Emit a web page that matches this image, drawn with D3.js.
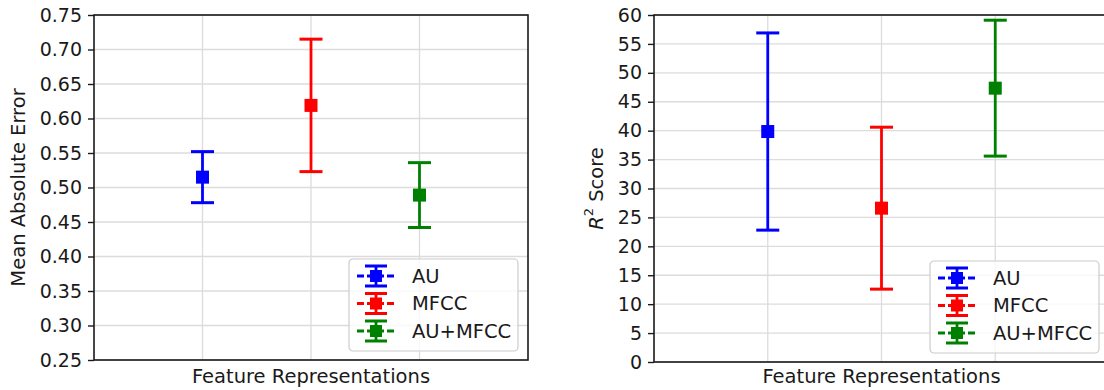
<!DOCTYPE html>
<html>
<head>
<meta charset="utf-8">
<script src="https://cdn.jsdelivr.net/npm/d3@7"></script>
<style>
  body { margin: 0; background: #fff; }
  svg { display: block; font-family: "DejaVu Sans", sans-serif; }
</style>
</head>
<body>
<svg id="chart" width="1104" height="390"></svg>
<script>
// data
var categories = ["AU", "MFCC", "AU+MFCC"];
var seriesColors = ["#0000ff", "#ff0000", "#008000"];
var maeMean = [0.515, 0.619, 0.489];
var maeErr = [0.037, 0.096, 0.047];
var r2Mean = [39.85, 26.6, 47.35];
var r2Err = [17.05, 14.0, 11.75];
var maeTicks = [0.25, 0.30, 0.35, 0.40, 0.45, 0.50, 0.55, 0.60, 0.65, 0.70, 0.75];
var r2Ticks = [0, 5, 10, 15, 20, 25, 30, 35, 40, 45, 50, 55, 60];

var svg = d3.select("#chart");
var fontSize = 19;
var labelSize = 19.5;

function drawPanel(p) {
  var x = d3.scaleLinear().domain([0, 4]).range([p.left, p.right]);
  var y = d3.scaleLinear().domain([p.ticks[0], p.ticks[p.ticks.length - 1]]).range([p.bottom, p.top]);
  var g = svg.append("g");

  // grid
  g.selectAll(".hgrid").data(p.ticks).enter().append("line")
    .attr("x1", p.left).attr("x2", p.right)
    .attr("y1", function (d) { return y(d); }).attr("y2", function (d) { return y(d); })
    .attr("stroke", "#dcdcdc").attr("stroke-width", 1.3);
  g.selectAll(".vgrid").data(categories).enter().append("line")
    .attr("x1", function (d, i) { return x(i + 1); }).attr("x2", function (d, i) { return x(i + 1); })
    .attr("y1", p.top).attr("y2", p.bottom)
    .attr("stroke", "#dcdcdc").attr("stroke-width", 1.3);

  // y axis
  var yAxis = d3.axisLeft(y).tickValues(p.ticks).tickFormat(p.fmt).tickSizeOuter(0).tickSizeInner(6).tickPadding(6);
  var ya = g.append("g").attr("transform", "translate(" + p.left + ",0)").call(yAxis);
  ya.select(".domain").remove();
  ya.selectAll(".tick line").attr("stroke", "#1a1a1a").attr("stroke-width", 1.4);
  ya.selectAll(".tick text").attr("fill", "#1a1a1a").style("font-size", fontSize + "px")
    .style("font-family", "DejaVu Sans");

  // error bars
  var bars = g.selectAll(".eb").data(categories).enter().append("g");
  bars.append("line")
    .attr("x1", function (d, i) { return x(i + 1); }).attr("x2", function (d, i) { return x(i + 1); })
    .attr("y1", function (d, i) { return y(p.mean[i] - p.err[i]); })
    .attr("y2", function (d, i) { return y(p.mean[i] + p.err[i]); })
    .attr("stroke", function (d, i) { return seriesColors[i]; }).attr("stroke-width", 2.8);
  [-1, 1].forEach(function (s) {
    bars.append("line")
      .attr("x1", function (d, i) { return x(i + 1) - 11.5; }).attr("x2", function (d, i) { return x(i + 1) + 11.5; })
      .attr("y1", function (d, i) { return y(p.mean[i] + s * p.err[i]); })
      .attr("y2", function (d, i) { return y(p.mean[i] + s * p.err[i]); })
      .attr("stroke", function (d, i) { return seriesColors[i]; }).attr("stroke-width", 3);
  });
  bars.append("rect")
    .attr("x", function (d, i) { return x(i + 1) - 6.5; })
    .attr("y", function (d, i) { return y(p.mean[i]) - 6.5; })
    .attr("width", 13).attr("height", 13)
    .attr("fill", function (d, i) { return seriesColors[i]; });

  // frame
  g.append("rect").attr("x", p.left).attr("y", p.top)
    .attr("width", p.right - p.left).attr("height", p.bottom - p.top)
    .attr("fill", "none").attr("stroke", "#1a1a1a").attr("stroke-width", 1.6);

  // labels
  g.append("text").attr("x", (p.left + p.right) / 2).attr("y", 383)
    .attr("text-anchor", "middle").style("font-size", labelSize + "px").attr("fill", "#1a1a1a")
    .text("Feature Representations");
  var yl = g.append("text")
    .attr("transform", "translate(" + p.ylabelX + "," + ((p.top + p.bottom) / 2) + ") rotate(-90)")
    .attr("text-anchor", "middle").attr("dominant-baseline", "central")
    .style("font-size", labelSize + "px").attr("fill", "#1a1a1a");
  p.ylabel(yl);

  // legend
  var lw = 169, lh = 92;
  var lx = p.right - 10 - lw, ly = p.bottom - 9 - lh;
  var lg = g.append("g").attr("transform", "translate(" + lx + "," + ly + ")");
  lg.append("rect").attr("width", lw).attr("height", lh).attr("rx", 4)
    .attr("fill", "#fff").attr("fill-opacity", 0.8).attr("stroke", "#cccccc").attr("stroke-width", 1.2);
  var rows = lg.selectAll(".row").data(categories).enter().append("g")
    .attr("transform", function (d, i) { return "translate(0," + (17 + i * 27.5) + ")"; });
  rows.append("line").attr("x1", 8).attr("x2", 46).attr("y1", 0).attr("y2", 0)
    .attr("stroke", function (d, i) { return seriesColors[i]; }).attr("stroke-width", 2.8)
    .attr("stroke-dasharray", "7,3");
  rows.append("line").attr("x1", 27).attr("x2", 27).attr("y1", -10).attr("y2", 10)
    .attr("stroke", function (d, i) { return seriesColors[i]; }).attr("stroke-width", 2.8);
  [-10, 10].forEach(function (cy) {
    rows.append("line").attr("x1", 16).attr("x2", 38).attr("y1", cy).attr("y2", cy)
      .attr("stroke", function (d, i) { return seriesColors[i]; }).attr("stroke-width", 3);
  });
  rows.append("rect").attr("x", 21).attr("y", -6).attr("width", 12).attr("height", 12)
    .attr("fill", function (d, i) { return seriesColors[i]; });
  rows.append("text").attr("x", 63).attr("y", 0).attr("dominant-baseline", "central")
    .style("font-size", labelSize + "px").attr("fill", "#1a1a1a")
    .text(function (d) { return d; });
}

drawPanel({
  left: 94, right: 528, top: 15, bottom: 360,
  ticks: maeTicks, mean: maeMean, err: maeErr,
  fmt: d3.format(".2f"), ylabelX: 18,
  ylabel: function (t) { t.text("Mean Absolute Error"); }
});

drawPanel({
  left: 654, right: 1109, top: 15, bottom: 362,
  ticks: r2Ticks, mean: r2Mean, err: r2Err,
  fmt: d3.format("d"), ylabelX: 596,
  ylabel: function (t) {
    t.append("tspan").style("font-style", "italic").text("R");
    t.append("tspan").attr("dy", -8).style("font-size", "13px").text("2");
    t.append("tspan").attr("dy", 8).text(" Score");
  }
});
</script>
</body>
</html>
